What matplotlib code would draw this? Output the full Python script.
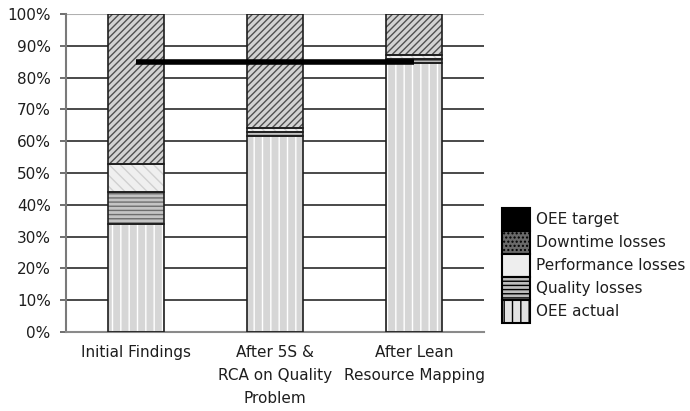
import matplotlib
matplotlib.use("Agg")
import matplotlib.pyplot as plt
from matplotlib.patches import Patch
from matplotlib.ticker import FuncFormatter
import numpy as np

# Stacked OEE breakdown per improvement stage (percent)
categories = ["Initial Findings", "After 5S &\nRCA on Quality\nProblem", "After Lean\nResource Mapping"]
oee_actual = [34.0, 61.5, 84.5]
quality_losses = [10.0, 1.5, 1.5]
performance_losses = [8.7, 1.0, 1.0]
downtime_losses = [47.3, 36.0, 13.0]
oee_target = [85.0, 85.0, 85.0]

plt.rcParams["font.family"] = ["DejaVu Sans"]
plt.rcParams["hatch.linewidth"] = 1.0
text_color = "#1e1e1e"

fig = plt.figure(figsize=(6.9, 4.11), dpi=100)
ax = fig.add_axes([66 / 690, 79 / 411, (484 - 66) / 690, (332 - 14) / 411])

x = np.arange(len(categories))
width = 0.4

# (values, face colour, hatch pattern, hatch colour)
series = [
    (oee_actual, "#d6d6d6", "||", "#ffffff"),
    (quality_losses, "#c4c4c4", "----", "#6e6e6e"),
    (performance_losses, "#efefef", "\\\\\\", "#d0d0d0"),
    (downtime_losses, "#d2d2d2", "/////", "#505050"),
]

bottom = np.zeros(len(categories))
for vals, face, hatch, hcol in series:
    vals = np.asarray(vals)
    ax.bar(x, vals, width, bottom=bottom, color=face, hatch=hatch,
           edgecolor=hcol, linewidth=0, zorder=2)
    ax.bar(x, vals, width, bottom=bottom, fill=False,
           edgecolor="#1e1e1e", linewidth=1.2, zorder=3)
    bottom += vals

ax.plot(x, oee_target, color="black", linewidth=4, solid_capstyle="butt", zorder=4)

ax.set_xlim(-0.5, len(categories) - 0.5)
ax.set_ylim(0, 100)
ax.set_yticks(np.arange(0, 101, 10))
ax.yaxis.set_major_formatter(FuncFormatter(lambda v, _: f"{v:.0f}%"))
ax.set_xticks(x)
ax.set_xticklabels(categories, linespacing=1.7)

for yv in range(10, 100, 10):
    ax.axhline(yv, color="#2a2a2a", linewidth=1.2, zorder=1)
ax.axhline(100, color="#b0b0b0", linewidth=1.5, zorder=1)

for side in ("top", "right"):
    ax.spines[side].set_visible(False)
ax.spines["left"].set_color("#7a7a7a")
ax.spines["left"].set_linewidth(1.5)
ax.spines["bottom"].set_color("#8a8a8a")
ax.spines["bottom"].set_linewidth(1.5)

ax.tick_params(axis="y", length=4, width=1.2, color="#555555", pad=7,
               labelsize=11, labelcolor=text_color)
ax.tick_params(axis="x", length=0, pad=9, labelsize=11, labelcolor=text_color)

handles = [
    Patch(facecolor="black", edgecolor="black", label="OEE target"),
    Patch(facecolor="#6a6a6a", edgecolor="black", hatch="....", label="Downtime losses"),
    Patch(facecolor="#eeeeee", edgecolor="black", label="Performance losses"),
    Patch(facecolor="#bcbcbc", edgecolor="black", hatch="----", label="Quality losses"),
    Patch(facecolor="#e2e2e2", edgecolor="black", hatch="||", label="OEE actual"),
]
leg = fig.legend(handles=handles, loc="lower left",
                 bbox_to_anchor=(502 / 690, (411 - 323) / 411),
                 bbox_transform=fig.transFigure, frameon=False,
                 fontsize=11, handlelength=1.85, handleheight=1.94,
                 labelspacing=0, handletextpad=0.35, borderpad=0,
                 borderaxespad=0)
for t in leg.get_texts():
    t.set_color(text_color)
for p in leg.get_patches():
    p.set_linewidth(1.5)

fig.savefig("out.png", dpi=100)
